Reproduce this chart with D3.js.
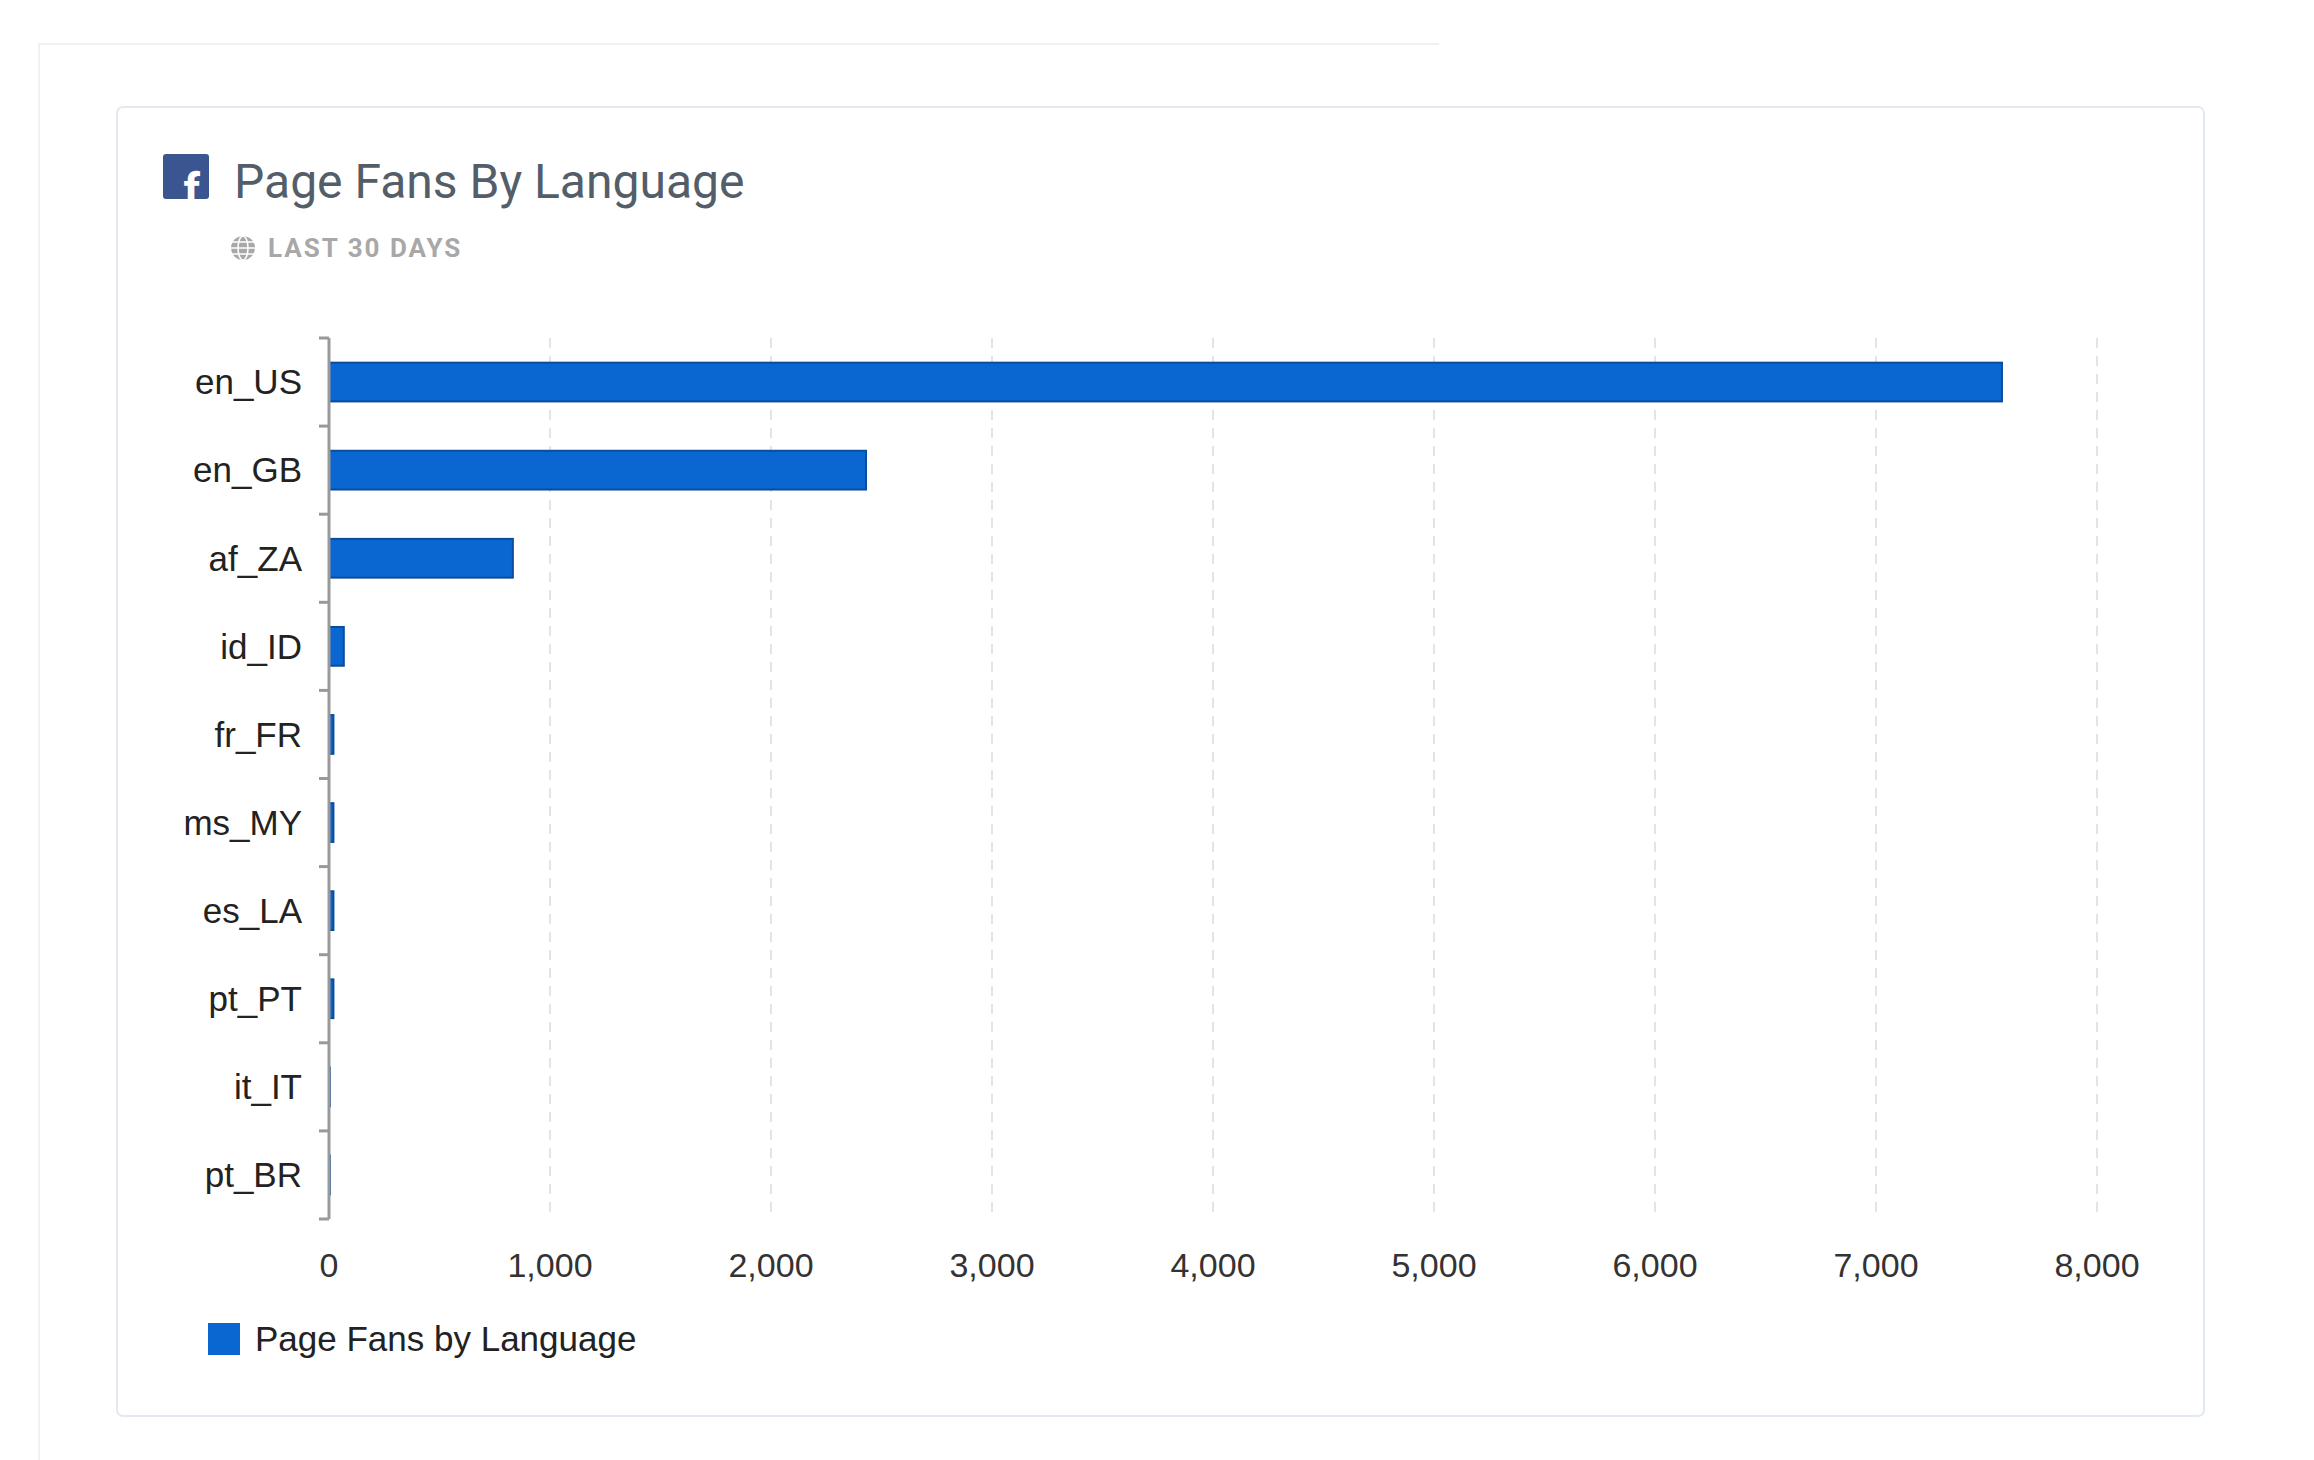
<!DOCTYPE html>
<html>
<head>
<meta charset="utf-8">
<script src="https://cdn.jsdelivr.net/npm/d3@7"></script>
<style>
  body { margin: 0; background: #fff; }
  text { font-family: Roboto, "Liberation Sans", Arial, sans-serif; }
</style>
</head>
<body>
<div id="chart"></div>
<script>
// Data
var languages = ["en_US", "en_GB", "af_ZA", "id_ID", "fr_FR", "ms_MY", "es_LA", "pt_PT", "it_IT", "pt_BR"];
var fans = [7570, 2430, 832, 67, 20, 20, 20, 20, 4, 4];
var xTicks = [0, 1000, 2000, 3000, 4000, 5000, 6000, 7000, 8000];

var svg = d3.select("#chart").append("svg")
    .attr("width", 2314)
    .attr("height", 1460);

// Outer panel and card
svg.append("path")
    .attr("d", "M39,1460 L39,44 L1439,44")
    .attr("fill", "none")
    .attr("stroke", "#eef2f6")
    .attr("stroke-width", 2);
svg.append("rect")
    .attr("x", 117).attr("y", 107)
    .attr("width", 2087).attr("height", 1309)
    .attr("rx", 6)
    .attr("fill", "#fff")
    .attr("stroke", "#e2e9f0")
    .attr("stroke-width", 2);

// Facebook icon
svg.append("rect")
    .attr("x", 163).attr("y", 154)
    .attr("width", 46).attr("height", 45)
    .attr("rx", 3)
    .attr("fill", "#3b5590");
svg.append("text")
    .attr("x", 200).attr("y", 206)
    .attr("text-anchor", "end")
    .style("font-size", "46px")
    .style("font-weight", "bold")
    .style("fill", "#fff")
    .text("f");

// Title
svg.append("text")
    .attr("x", 234).attr("y", 198)
    .style("font-size", "48px")
    .style("fill", "#535e69")
    .text("Page Fans By Language");

// Globe icon + subtitle
var globe = svg.append("g").attr("transform", "translate(243,248)");
globe.append("circle").attr("r", 12).attr("fill", "#a8a8a8");
globe.append("ellipse").attr("rx", 5).attr("ry", 12).attr("fill", "none").attr("stroke", "#fff").attr("stroke-width", 1.5);
globe.append("line").attr("x1", -12).attr("x2", 12).attr("stroke", "#fff").attr("stroke-width", 1.5);
globe.append("line").attr("x1", -11).attr("x2", 11).attr("y1", -6).attr("y2", -6).attr("stroke", "#fff").attr("stroke-width", 1.5);
globe.append("line").attr("x1", -11).attr("x2", 11).attr("y1", 6).attr("y2", 6).attr("stroke", "#fff").attr("stroke-width", 1.5);
svg.append("text")
    .attr("x", 268).attr("y", 257)
    .style("font-size", "26px")
    .style("font-weight", "bold")
    .style("letter-spacing", "2px")
    .style("fill", "#a8a8a8")
    .text("LAST 30 DAYS");

// Plot area
var x0 = 329, x1 = 2097, y0 = 338, y1 = 1219;
var xScale = d3.scaleLinear().domain([0, 8000]).range([x0, x1]);
var yScale = d3.scaleBand().domain(languages).range([y0, y1]).paddingInner(0.56).paddingOuter(0.28);
var bandStep = (y1 - y0) / languages.length;

// Grid lines
svg.append("g").selectAll("line")
    .data(xTicks.slice(1))
    .enter().append("line")
    .attr("x1", d => xScale(d)).attr("x2", d => xScale(d))
    .attr("y1", y0).attr("y2", y1)
    .attr("stroke", "#e4e4e4")
    .attr("stroke-width", 2)
    .attr("stroke-dasharray", "10,8");

// Bars
svg.append("g").selectAll("rect")
    .data(fans)
    .enter().append("rect")
    .attr("x", xScale(0))
    .attr("y", (d, i) => yScale(languages[i]))
    .attr("width", d => xScale(d) - xScale(0))
    .attr("height", yScale.bandwidth())
    .attr("fill", "#0a67d1")
    .attr("stroke", "#0a4d9c")
    .attr("stroke-width", 2);

// Y axis
var yAxisG = svg.append("g");
yAxisG.append("line")
    .attr("x1", x0).attr("x2", x0)
    .attr("y1", y0).attr("y2", y1)
    .attr("stroke", "#999").attr("stroke-width", 3);
yAxisG.selectAll(".tick")
    .data(d3.range(languages.length + 1))
    .enter().append("line")
    .attr("x1", x0 - 10).attr("x2", x0)
    .attr("y1", i => y0 + i * bandStep).attr("y2", i => y0 + i * bandStep)
    .attr("stroke", "#999").attr("stroke-width", 3);
yAxisG.selectAll("text")
    .data(languages)
    .enter().append("text")
    .attr("x", 302)
    .attr("y", d => yScale(d) + yScale.bandwidth() / 2)
    .attr("dy", "0.35em")
    .attr("text-anchor", "end")
    .style("font-size", "35px")
    .style("fill", "#222")
    .style("font-family", "'Liberation Sans', Arial, sans-serif")
    .text(d => d);

// X axis labels
var fmt = d3.format(",");
svg.append("g").selectAll("text")
    .data(xTicks)
    .enter().append("text")
    .attr("x", d => xScale(d))
    .attr("y", 1277)
    .attr("text-anchor", "middle")
    .style("font-size", "34px")
    .style("fill", "#333")
    .style("font-family", "'Liberation Sans', Arial, sans-serif")
    .text(d => fmt(d));

// Legend
svg.append("rect")
    .attr("x", 208).attr("y", 1323)
    .attr("width", 32).attr("height", 32)
    .attr("fill", "#0a67d1");
svg.append("text")
    .attr("x", 255).attr("y", 1351)
    .style("font-size", "35px")
    .style("fill", "#222")
    .style("font-family", "'Liberation Sans', Arial, sans-serif")
    .text("Page Fans by Language");
</script>
</body>
</html>
